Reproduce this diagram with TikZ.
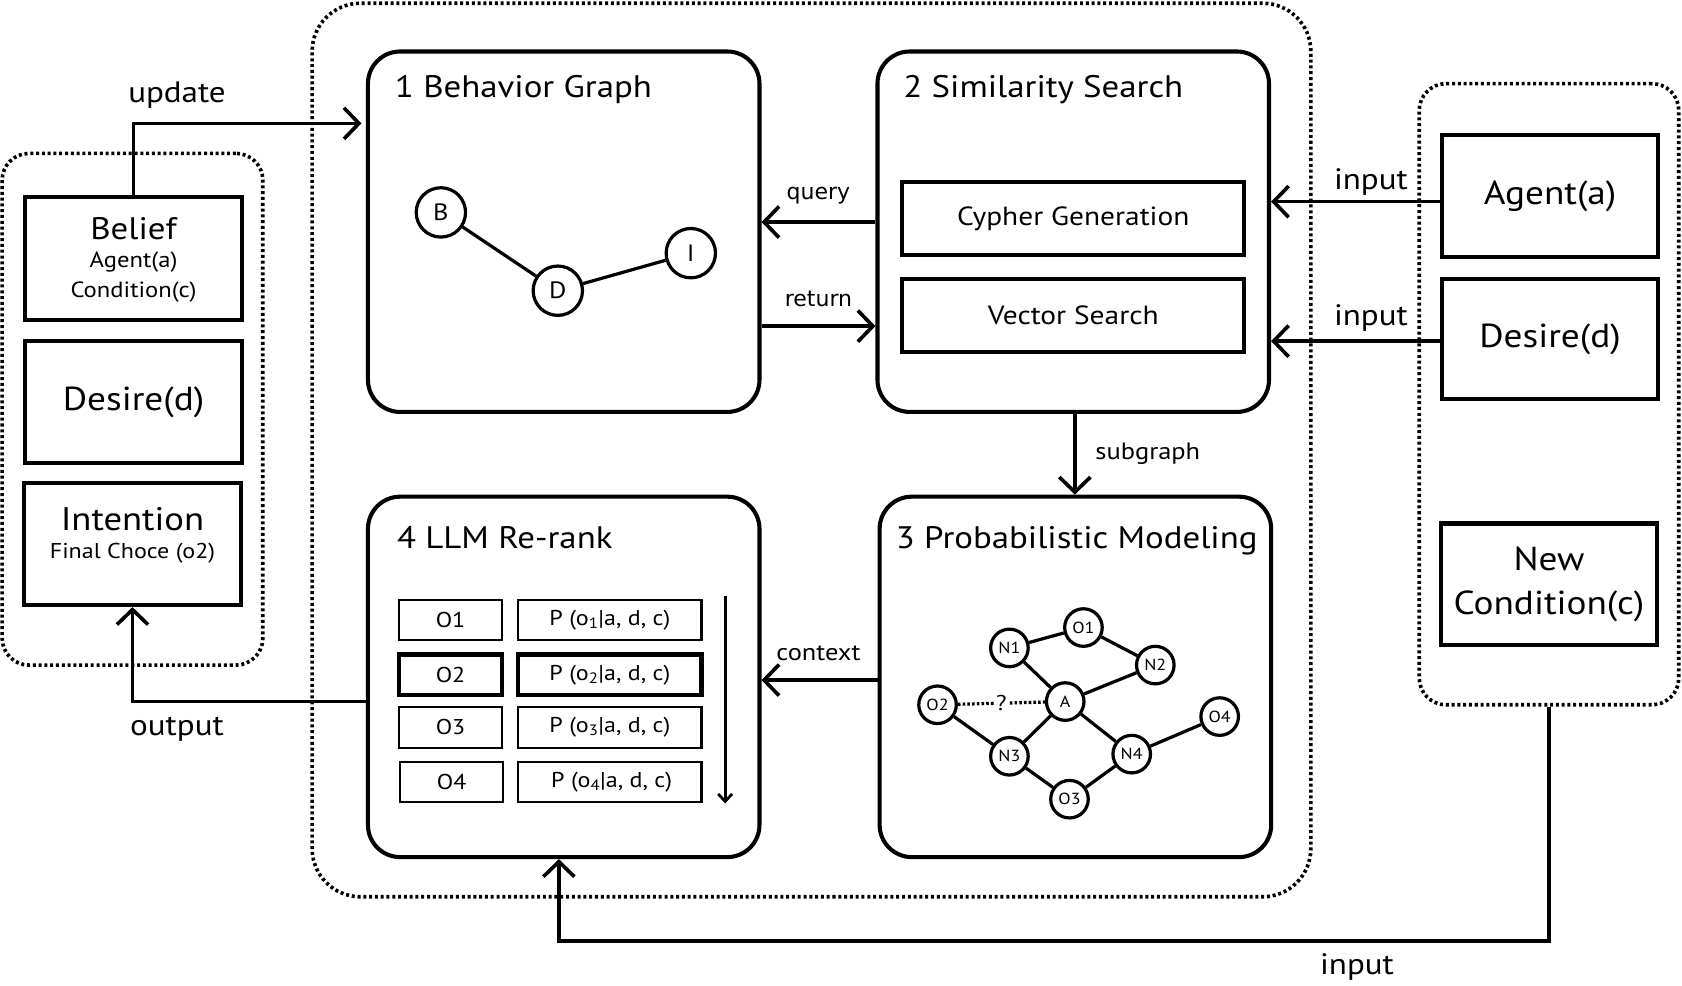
\documentclass[tikz,border=0pt]{standalone}
\usepackage{fontspec}
\setmainfont{PT Sans}[FakeStretch=1.12]
\newfontfamily\dvfont{DejaVu Sans}
\usetikzlibrary{arrows.meta}
\begin{document}
\begin{tikzpicture}[x=1pt,y=-1pt,
  grp/.style={draw,line width=3.4pt,dash pattern=on 2.8pt off 2.6pt,rounded corners=#1,inner sep=0pt},
  panel/.style={draw,line width=3.8pt,rounded corners=30pt,minimum width=365pt,minimum height=336pt,inner sep=0pt},
  sbox/.style={draw,line width=3.8pt,inner sep=0pt},
  cell/.style={draw,line width=2pt,minimum height=38pt,inner sep=0pt,font=\fontsize{20}{24}\selectfont},
  bcell/.style={cell,line width=4pt},
  arr/.style={line width=3.4pt,-{Straight Barb[length=14pt,width=29pt,line width=3.4pt]}},
  mid/.style={font=\fontsize{27.5}{33}\selectfont},
  sml/.style={font=\fontsize{20.5}{24}\selectfont},
  lbl/.style={font=\fontsize{22}{26}\selectfont},
  dv/.style={font=\dvfont\fontsize{20.5}{24}\selectfont},
  ttl/.style={font=\fontsize{29}{35}\selectfont,anchor=base west,inner sep=0pt},
  gn/.style={circle,draw,line width=3pt,minimum size=46pt,inner sep=0pt,fill=white,font=\fontsize{22}{26}\selectfont},
  pn/.style={circle,draw,line width=3pt,minimum size=35pt,inner sep=0pt,fill=white,font=\fontsize{15}{18}\selectfont},
  edge/.style={line width=3pt}
]
\useasboundingbox (0,0) rectangle (1568,919);

% group boxes
\node[grp=45pt,minimum width=931pt,minimum height=833pt] (main) at (756.5,419.5) {};
\node[grp=25pt,minimum width=243pt,minimum height=477pt] (left) at (123.5,381.5) {};
\node[grp=25pt,minimum width=242pt,minimum height=579pt] (right) at (1444,367.5) {};

% left column
\node[sbox,minimum width=203pt,minimum height=114pt] (belief) at (124.5,241) {};
\node[font=\fontsize{29}{35}\selectfont] (beliefT) at (124.5,213) {Belief};
\node[sml] (beliefA) at (124.5,244) {Agent(a)};
\node[sml] (beliefC) at (124.5,272) {Condition(c)};
\node[sbox,minimum width=203pt,minimum height=114pt,font=\fontsize{31}{37}\selectfont] (desireL) at (124.5,375) {Desire(d)};
\node[sbox,minimum width=203pt,minimum height=114pt] (intent) at (123.5,507) {};
\node[font=\fontsize{30.5}{36}\selectfont] (intentT) at (123.5,484) {Intention};
\node[font=\fontsize{20}{24}\selectfont] (intentF) at (123.5,516) {Final Choce (o2)};

% right column
\node[sbox,minimum width=202pt,minimum height=114pt,font=\fontsize{31}{37}\selectfont] (agentR) at (1445,183) {Agent(a)};
\node[sbox,minimum width=202pt,minimum height=112pt,font=\fontsize{31}{37}\selectfont] (desireR) at (1445,316) {Desire(d)};
\node[sbox,minimum width=202pt,minimum height=113pt,align=center,font=\fontsize{31}{41}\selectfont] (newc) at (1444,544.5) {New\\Condition(c)};

% panels
\node[panel] (bg) at (525.5,216) {};
\node[ttl] (bgT) at (368,91) {1 Behavior Graph};
\node[panel] (ss) at (1000.5,216) {};
\node[ttl] (ssT) at (842,91) {2 Similarity Search};
\node[panel] (pm) at (1002.5,631) {};
\node[ttl] (pmT) at (835,511) {3 Probabilistic Modeling};
\node[panel] (lr) at (525.5,631) {};
\node[ttl] (lrT) at (370,511) {4 LLM Re-rank};

% similarity search boxes
\node[sbox,minimum width=319pt,minimum height=68pt,font=\fontsize{24.5}{29}\selectfont] (cy) at (1000.5,204) {Cypher Generation};
\node[sbox,minimum width=319pt,minimum height=68pt,font=\fontsize{24.5}{29}\selectfont] (vs) at (1000.5,294) {Vector Search};

% behavior graph
\node[gn] (B) at (411,198) {B};
\node[gn] (D) at (520,271) {D};
\node[gn] (I) at (644,236) {I};
\draw[edge] (B) -- (D) -- (I);

% probabilistic graph
\node[pn] (N1) at (941,604) {N1};
\node[pn] (O1) at (1010,585) {O1};
\node[pn] (N2) at (1077,620) {N2};
\node[pn] (O2) at (874,657) {O2};
\node[pn] (A) at (993,654) {A};
\node[pn] (O4) at (1137,668) {O4};
\node[pn] (N3) at (941,705) {N3};
\node[pn] (N4) at (1055,703) {N4};
\node[pn] (O3) at (997,745) {O3};
\draw[edge] (N1) -- (O1) -- (N2) -- (A) -- (N1);
\draw[edge] (O2) -- (N3) -- (A) -- (N4) -- (O4);
\draw[edge] (N3) -- (O3) -- (N4);
\draw[line width=3pt,dash pattern=on 2.4pt off 2pt] (O2) -- node[fill=white,inner sep=1.5pt,font=\fontsize{20}{23}\selectfont] (q) {?} (A);

% table
\node[cell,minimum width=96pt] (o1) at (420,578) {O1};
\node[cell,minimum width=171pt] (p1) at (568.5,578) {P (o\textsubscript{1}|a, d, c)};
\node[bcell,minimum width=96pt] (o2) at (420,629) {O2};
\node[bcell,minimum width=171pt] (p2) at (568.5,629) {P (o\textsubscript{2}|a, d, c)};
\node[cell,minimum width=96pt] (o3) at (420,678) {O3};
\node[cell,minimum width=171pt] (p3) at (568.5,678) {P (o\textsubscript{3}|a, d, c)};
\node[cell,minimum width=96pt] (o4) at (421,729) {O4};
\node[cell,minimum width=171pt] (p4) at (568.5,729) {\,P (o\textsubscript{4}|a, d, c)};
\coordinate (rkT) at (676,556);
\coordinate (rkB) at (676,749);
\draw[line width=2.6pt,-{Straight Barb[length=7pt,width=13pt,line width=2.6pt]}] (rkT) -- (rkB);

% connectors
\coordinate (updEnd) at (337,115);
\draw[arr] (belief.north) |- (updEnd);
\node[mid] (updL) at (165,89) {update};

\draw[arr] (ss.west |- 0,207) -- (bg.east |- 0,207);
\node[dv] (qL) at (763,182) {query};
\draw[arr] (bg.east |- 0,304) -- (ss.west |- 0,304);
\node[dv] (rL) at (763,279) {return};

\draw[arr] (agentR.west |- 0,188) -- (ss.east |- 0,188);
\node[mid] (in1) at (1278,170) {input};
\draw[arr] (desireR.west |- 0,318) -- (ss.east |- 0,318);
\node[mid] (in2) at (1278,296) {input};

\draw[arr] (ss.south -| 1002,0) -- (pm.north -| 1002,0);
\node[lbl] (sgL) at (1070,423) {subgraph};

\draw[arr] (pm.west |- 0,634) -- (lr.east |- 0,634);
\node[lbl] (cL) at (763,609) {context};

\draw[arr] (lr.west |- 0,654) -| (intent.south);
\node[mid] (oL) at (165,680) {output};

\coordinate (bcorner) at (521,877);
\coordinate (lrin) at (lr.south -| bcorner);
\draw[arr] (right.south) |- (bcorner) -- (lrin);
\node[mid] (in3) at (1265,901) {input};
\end{tikzpicture}
\end{document}
